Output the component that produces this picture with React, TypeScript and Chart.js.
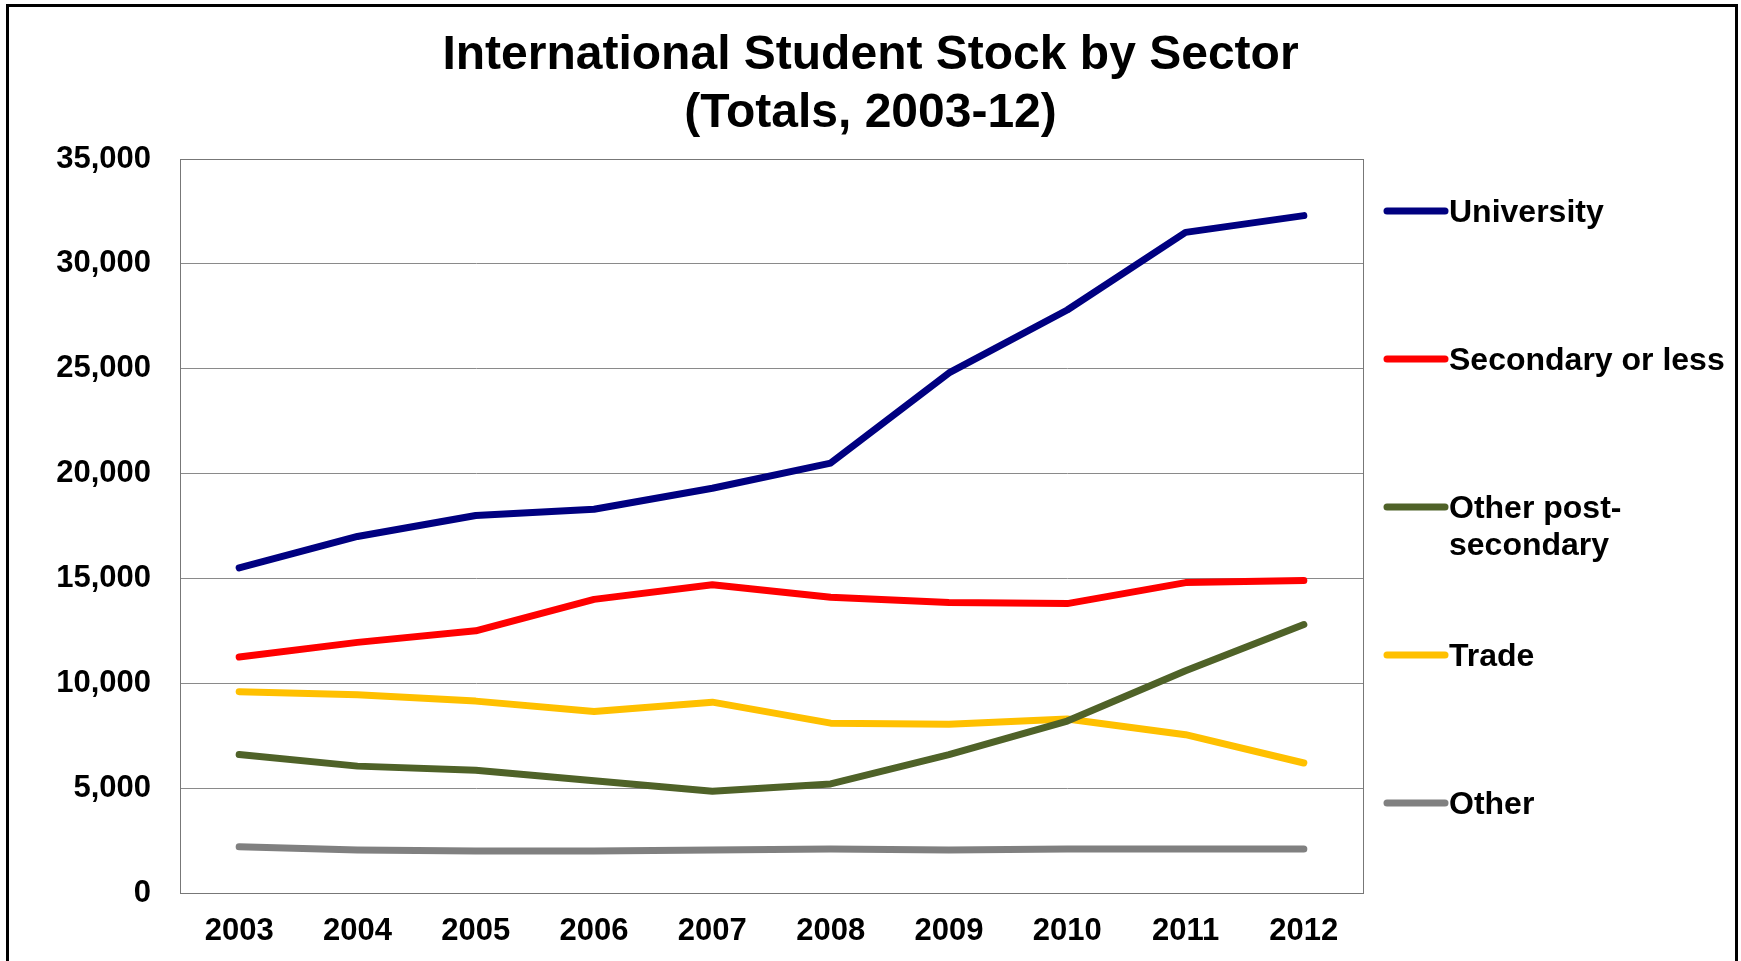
import React, { useEffect, useRef } from "react";
import { Chart, registerables } from "chart.js";

Chart.register(...registerables);

const years = ["2003", "2004", "2005", "2006", "2007", "2008", "2009", "2010", "2011", "2012"];
const university = [15500, 17000, 18000, 18300, 19300, 20500, 24800, 27800, 31500, 32300];
const secondaryOrLess = [11250, 11950, 12500, 14000, 14700, 14100, 13850, 13800, 14800, 14900];
const otherPostSecondary = [6600, 6050, 5850, 5350, 4850, 5200, 6600, 8200, 10600, 12800];
const trade = [9600, 9450, 9150, 8650, 9100, 8100, 8050, 8300, 7550, 6200];
const other = [2200, 2050, 2000, 2000, 2050, 2100, 2050, 2100, 2100, 2100];

const seriesNames = ["University", "Secondary or less", "Other post-secondary", "Trade", "Other"];
const legendLines = [["University"], ["Secondary or less"], ["Other post-", "secondary"], ["Trade"], ["Other"]];
const colors = ["#000080", "#FF0000", "#4F6228", "#FFC000", "#808080"];
const titleLines = ["International Student Stock by Sector", "(Totals, 2003-12)"];

const FONT = "'Liberation Sans', Arial, Helvetica, sans-serif";

const W = 1741;
const H = 961;

const framePlugin = {
  id: "frame",
  beforeDraw(chart: any) {
    const ctx = chart.ctx;
    ctx.save();
    ctx.fillStyle = "#ffffff";
    ctx.fillRect(0, 0, chart.width, chart.height);
    ctx.strokeStyle = "#000000";
    ctx.lineWidth = 3;
    ctx.beginPath();
    ctx.moveTo(7.5, chart.height + 2);
    ctx.lineTo(7.5, 5.5);
    ctx.lineTo(1736.5, 5.5);
    ctx.lineTo(1736.5, chart.height + 2);
    ctx.stroke();
    ctx.restore();
  },
  afterDatasetsDraw(chart: any) {
    const { ctx, chartArea } = chart;
    ctx.save();
    ctx.lineWidth = 1;
    ctx.strokeStyle = "#777777";
    ctx.strokeRect(chartArea.left + 0.5, chartArea.top + 0.5, chartArea.right - chartArea.left, chartArea.bottom - chartArea.top);
    ctx.restore();
  },
  afterDraw(chart: any) {
    const ctx = chart.ctx;
    ctx.save();
    ctx.font = `bold 48px ${FONT}`;
    ctx.fillStyle = "#000000";
    ctx.textAlign = "center";
    ctx.textBaseline = "middle";
    titleLines.forEach((t, i) => {
      ctx.fillText(t, chart.width / 2, 56 + i * 58);
    });
    ctx.restore();
  },
};

const legendPlugin = {
  id: "sideLegend",
  afterDraw(chart: any) {
    const { ctx, chartArea } = chart;
    ctx.save();
    const x0 = chartArea.right + 24;
    const x1 = x0 + 58;
    const tx = x1 + 4;
    const startY = chartArea.top + 52;
    const step = 148;
    ctx.font = `bold 32px ${FONT}`;
    ctx.textBaseline = "middle";
    ctx.textAlign = "left";
    chart.data.datasets.forEach((ds: any, i: number) => {
      const y = startY + i * step;
      ctx.strokeStyle = ds.borderColor;
      ctx.lineWidth = 7;
      ctx.lineCap = "round";
      ctx.beginPath();
      ctx.moveTo(x0, y);
      ctx.lineTo(x1, y);
      ctx.stroke();
      ctx.fillStyle = "#000000";
      legendLines[i].forEach((line, j) => {
        ctx.fillText(line, tx, y + 2 + j * 37);
      });
    });
    ctx.restore();
  },
};

export default function App() {
  const canvasRef = useRef<HTMLCanvasElement | null>(null);

  useEffect(() => {
    document.body.style.margin = "0";
    const canvas = canvasRef.current;
    if (!canvas) return;
    const allSeries = [university, secondaryOrLess, otherPostSecondary, trade, other];
    const chart = new Chart(canvas, {
      type: "line",
      data: {
        labels: years,
        datasets: allSeries.map((d, i) => ({
          label: seriesNames[i],
          data: d,
          borderColor: colors[i],
          backgroundColor: colors[i],
          borderWidth: 7,
          borderCapStyle: "round",
          borderJoinStyle: "round",
          pointRadius: 0,
          pointHoverRadius: 0,
          tension: 0,
          fill: false,
        })),
      },
      options: {
        responsive: false,
        animation: false,
        devicePixelRatio: 1,
        layout: { padding: { left: 0, right: 378, top: 159, bottom: 0 } },
        plugins: {
          legend: { display: false },
          tooltip: { enabled: false },
          title: { display: false },
        },
        scales: {
          x: {
            offset: true,
            grid: { display: false, drawTicks: false },
            border: { display: true, color: "#888888", width: 1 },
            ticks: {
              color: "#000000",
              padding: 20,
              maxRotation: 0,
              font: { family: FONT, size: 31, weight: "bold" },
            },
            afterFit(scale: any) {
              scale.height = 68;
            },
          },
          y: {
            min: 0,
            max: 35000,
            grid: { color: "#8a8a8a", lineWidth: 1, drawTicks: false },
            border: { display: true, color: "#333333", width: 1 },
            ticks: {
              stepSize: 5000,
              color: "#000000",
              padding: 29,
              font: { family: FONT, size: 31, weight: "bold" },
              callback: (v: any) => Number(v).toLocaleString("en-US"),
            },
            afterFit(scale: any) {
              scale.width = 180;
            },
          },
        },
      },
      plugins: [framePlugin, legendPlugin],
    });
    return () => chart.destroy();
  }, []);

  return (
    <div style={{ width: W, height: H, position: "relative", background: "#fff" }}>
      <canvas ref={canvasRef} width={W} height={H} style={{ width: W, height: H, display: "block" }} />
    </div>
  );
}
